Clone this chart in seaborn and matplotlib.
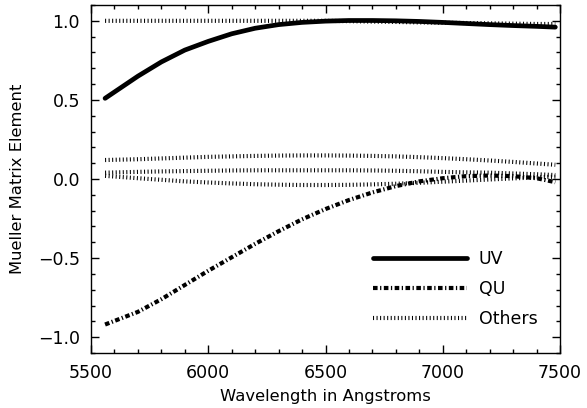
import matplotlib
matplotlib.use("Agg")
import matplotlib.pyplot as plt
from matplotlib.ticker import MultipleLocator
import seaborn as sns

wavelength = [5560, 5700, 5800, 5900, 6000, 6100, 6200, 6300, 6400, 6500,
              6600, 6700, 6800, 6900, 7000, 7100, 7200, 7300, 7400, 7480]
uv = [0.51, 0.65, 0.74, 0.815, 0.87, 0.918, 0.953, 0.976, 0.99, 0.998,
      1.002, 1.002, 1.0, 0.996, 0.99, 0.983, 0.976, 0.97, 0.965, 0.96]
qu = [-0.92, -0.84, -0.76, -0.67, -0.58, -0.495, -0.41, -0.33, -0.255, -0.19,
      -0.133, -0.085, -0.045, -0.015, 0.005, 0.018, 0.022, 0.018, 0.005, -0.02]
other_1 = [1.0, 1.0, 1.0, 1.0, 1.0, 1.0, 1.0, 1.0, 1.0, 1.0,
           0.998, 0.995, 0.993, 0.99, 0.988, 0.986, 0.984, 0.982, 0.98, 0.98]
other_2 = [0.12, 0.125, 0.13, 0.135, 0.14, 0.143, 0.146, 0.148, 0.149, 0.149,
           0.148, 0.146, 0.143, 0.138, 0.132, 0.125, 0.117, 0.108, 0.098, 0.09]
other_3 = [0.04, 0.045, 0.048, 0.05, 0.052, 0.054, 0.055, 0.055, 0.055, 0.055,
           0.055, 0.054, 0.052, 0.049, 0.045, 0.042, 0.04, 0.035, 0.03, 0.025]
other_4 = [0.02, 0.005, -0.005, -0.015, -0.022, -0.028, -0.033, -0.036, -0.038, -0.038,
           -0.037, -0.034, -0.03, -0.024, -0.017, -0.01, -0.003, 0.004, 0.01, 0.015]

x_ticks = [5500, 6000, 6500, 7000, 7500]
y_ticks = [-1.0, -0.5, 0.0, 0.5, 1.0]

sns.set_style("ticks")
plt.rcParams.update({
    "font.family": ["DejaVu Sans"],
    "text.color": "black", "axes.labelcolor": "black",
    "xtick.labelcolor": "black", "ytick.labelcolor": "black",
    "xtick.direction": "in", "ytick.direction": "in",
    "xtick.top": True, "ytick.right": True,
    "axes.linewidth": 1.0,
    "xtick.major.width": 1.0, "ytick.major.width": 1.0,
    "xtick.minor.width": 1.0, "ytick.minor.width": 1.0,
    "xtick.major.size": 5.5, "ytick.major.size": 5.5,
    "xtick.minor.size": 2.6, "ytick.minor.size": 2.6,
    "xtick.color": "black", "ytick.color": "black",
    "axes.edgecolor": "black",
})

fig = plt.figure(figsize=(5.87, 4.08), dpi=100)
ax = fig.add_axes([91/587, 55/408, 469/587, 348/408])

dotted = (0, (0.25, 0.6))
dashdot = (0, (1.1, 0.6, 0.3, 0.6))

sns.lineplot(x=wavelength, y=other_1, ax=ax, color="black", lw=3,
             linestyle=dotted, label="Others")
for oth in (other_2, other_3, other_4):
    sns.lineplot(x=wavelength, y=oth, ax=ax, color="black", lw=3,
                 linestyle=dotted, label="_nolegend_")
sns.lineplot(x=wavelength, y=uv, ax=ax, color="black", lw=3.4,
             linestyle="-", label="UV")
sns.lineplot(x=wavelength, y=qu, ax=ax, color="black", lw=3,
             linestyle=dashdot, label="QU")

ax.set_xlim(5500, 7500)
ax.set_ylim(-1.1, 1.1)
ax.set_xticks(x_ticks)
ax.set_yticks(y_ticks)
ax.set_xticklabels([str(t) for t in x_ticks])
ax.set_yticklabels([f"{t:.1f}".replace("-", "\u2212") for t in y_ticks])
ax.xaxis.set_minor_locator(MultipleLocator(100))
ax.yaxis.set_minor_locator(MultipleLocator(0.1))
ax.tick_params(axis="both", which="both", labelsize=12.5)
ax.tick_params(axis="x", which="major", pad=8)
ax.tick_params(axis="y", which="major", pad=8)

ax.set_xlabel("Wavelength in Angstroms", fontsize=11.8, labelpad=5)
ax.set_ylabel("Mueller Matrix Element", fontsize=11.8, labelpad=9)

handles, labels = ax.get_legend_handles_labels()
order = [labels.index(l) for l in ["UV", "QU", "Others"]]
ax.legend([handles[i] for i in order], [labels[i] for i in order],
          loc="upper left", bbox_to_anchor=(373/587, 1 - 250/408),
          bbox_transform=fig.transFigure, frameon=False,
          fontsize=12.5, handlelength=5.4, handletextpad=0.7,
          labelspacing=0.68, borderpad=0, borderaxespad=0)

fig.savefig("out.png", dpi=100)
